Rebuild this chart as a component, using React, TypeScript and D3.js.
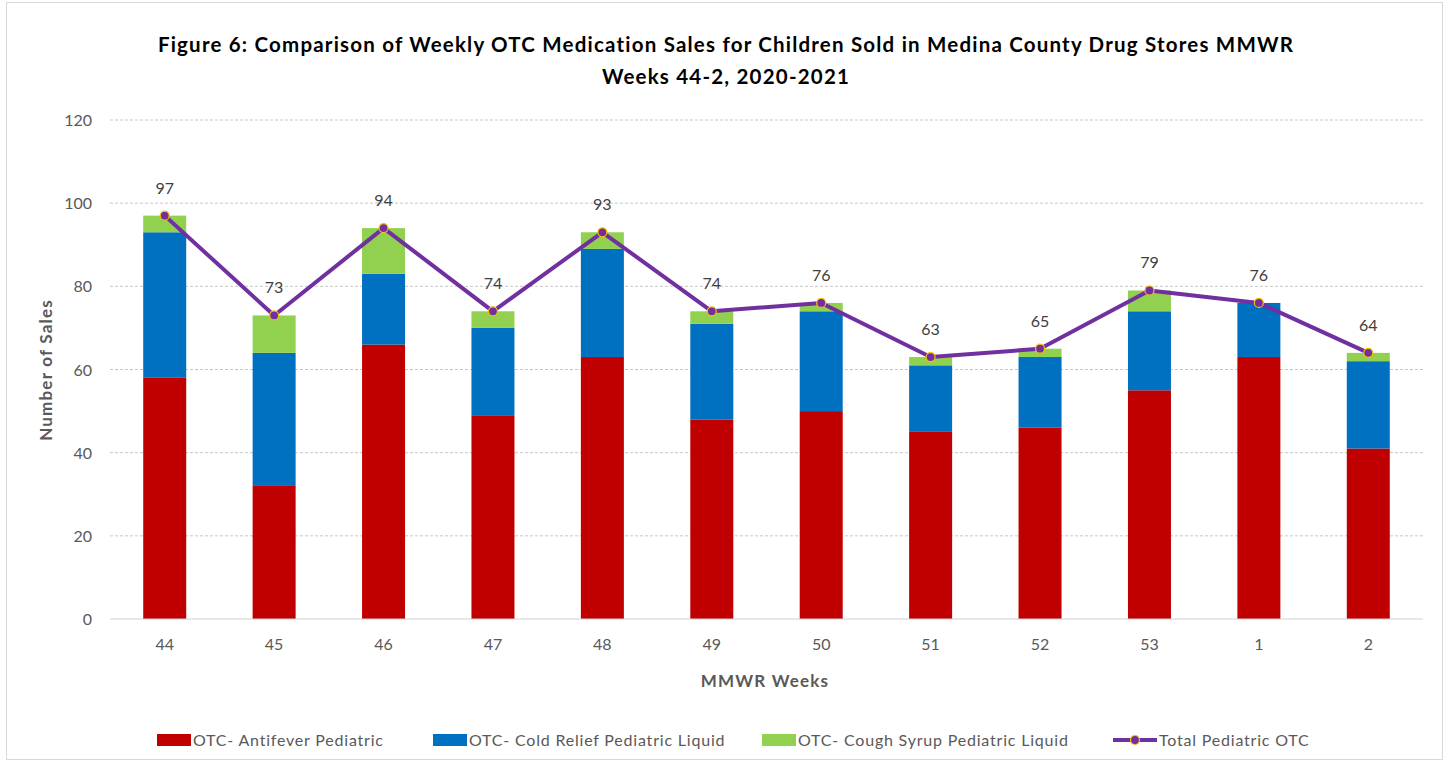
import React from "react";
import * as d3 from "d3";

const weeks = ["44", "45", "46", "47", "48", "49", "50", "51", "52", "53", "1", "2"];
const antifever = [58, 32, 66, 49, 63, 48, 50, 45, 46, 55, 63, 41];
const coldRelief = [35, 32, 17, 21, 26, 23, 24, 16, 17, 19, 13, 21];
const coughSyrup = [4, 9, 11, 4, 4, 3, 2, 2, 2, 5, 0, 2];
const totals = [97, 73, 94, 74, 93, 74, 76, 63, 65, 79, 76, 64];
const yTicks = [0, 20, 40, 60, 80, 100, 120];
const seriesNames = [
  "OTC- Antifever Pediatric",
  "OTC- Cold Relief Pediatric Liquid",
  "OTC- Cough Syrup Pediatric Liquid",
  "Total Pediatric OTC",
];
const colors = ["#C00000", "#0070C0", "#92D050", "#7030A0"];

const W = 1449;
const H = 763;
const M = { left: 110, right: 1423, top: 120, bottom: 619 };
const FONT = "Lato, 'Open Sans', sans-serif";

export default function App() {
  const xc = d3.scalePoint<string>().domain(weeks).range([M.left, M.right]).padding(0.5);
  const y = d3.scaleLinear().domain([0, 120]).range([M.bottom, M.top]);
  const bw = 43;

  const rows = weeks.map((w, i) => ({ w, a: antifever[i], b: coldRelief[i], c: coughSyrup[i] }));
  const stack = d3.stack<any>().keys(["a", "b", "c"])(rows);

  const line = d3
    .line<number>()
    .x((_, i) => xc(weeks[i])!)
    .y((d) => y(d));

  const legendItems = [
    { x: 157, type: "rect", i: 0 },
    { x: 433, type: "rect", i: 1 },
    { x: 762, type: "rect", i: 2 },
    { x: 1113, type: "line", i: 3 },
  ];

  return (
    <svg width={W} height={H} style={{ position: "absolute", left: 0, top: 0 }} fontFamily={FONT}>
      <rect x={0} y={0} width={W} height={H} fill="#fff" />
      <rect x={6.5} y={2.5} width={W - 13} height={H - 6} fill="none" stroke="#d9d9d9" />
      <text x={726} y={52} textAnchor="middle" fontWeight="bold" fontSize={20.5} letterSpacing={1.2} fill="#000">
        Figure 6: Comparison of Weekly OTC Medication Sales for Children Sold in Medina County Drug Stores MMWR
      </text>
      <text x={726} y={84} textAnchor="middle" fontWeight="bold" fontSize={20.5} letterSpacing={1.2} fill="#000">
        Weeks 44-2, 2020-2021
      </text>

      {yTicks.map((t) => (
        <g key={t}>
          {t > 0 && (
            <line x1={M.left} x2={M.right} y1={y(t)} y2={y(t)} stroke="#c8c8c8" strokeDasharray="3,2" />
          )}
          <text x={92} y={y(t) + 6} textAnchor="end" fontSize={16} fill="#595959">
            {t}
          </text>
        </g>
      ))}

      {stack.map((s, si) => (
        <g key={si} fill={colors[si]}>
          {s.map((d, i) => (
            <rect
              key={i}
              x={xc(weeks[i])! - bw / 2}
              y={y(d[1])}
              width={bw}
              height={Math.max(0, y(d[0]) - y(d[1]))}
            />
          ))}
        </g>
      ))}

      <line x1={M.left} x2={M.right} y1={M.bottom} y2={M.bottom} stroke="#d0d0d0" />

      {weeks.map((w) => (
        <text key={w} x={xc(w)!} y={650} textAnchor="middle" fontSize={16} fill="#595959">
          {w}
        </text>
      ))}

      <path d={line(totals)!} fill="none" stroke={colors[3]} strokeWidth={4} strokeLinejoin="round" />
      {totals.map((t, i) => (
        <g key={i}>
          <circle cx={xc(weeks[i])!} cy={y(t)} r={4.5} fill={colors[3]} stroke="#FFC000" strokeWidth={1.2} />
          <text x={xc(weeks[i])!} y={y(t) - 22} textAnchor="middle" fontSize={16} fill="#404040">
            {t}
          </text>
        </g>
      ))}

      <text x={765} y={687} textAnchor="middle" fontWeight="bold" fontSize={17} letterSpacing={1.2} fill="#595959">
        MMWR Weeks
      </text>
      <text
        transform={`translate(52,370) rotate(-90)`}
        textAnchor="middle"
        fontWeight="bold"
        fontSize={17}
        letterSpacing={1.2}
        fill="#595959"
      >
        Number of Sales
      </text>

      {legendItems.map((l) => (
        <g key={l.i}>
          {l.type === "rect" ? (
            <rect x={l.x} y={734} width={34} height={12} fill={colors[l.i]} />
          ) : (
            <g>
              <line x1={l.x} x2={l.x + 44} y1={740} y2={740} stroke={colors[3]} strokeWidth={4} />
              <circle cx={l.x + 22} cy={740} r={4.5} fill={colors[3]} stroke="#FFC000" strokeWidth={1.2} />
            </g>
          )}
          <text x={l.x + (l.type === "rect" ? 36 : 46)} y={746} fontSize={16} letterSpacing={0.8} fill="#595959">
            {seriesNames[l.i]}
          </text>
        </g>
      ))}
    </svg>
  );
}
